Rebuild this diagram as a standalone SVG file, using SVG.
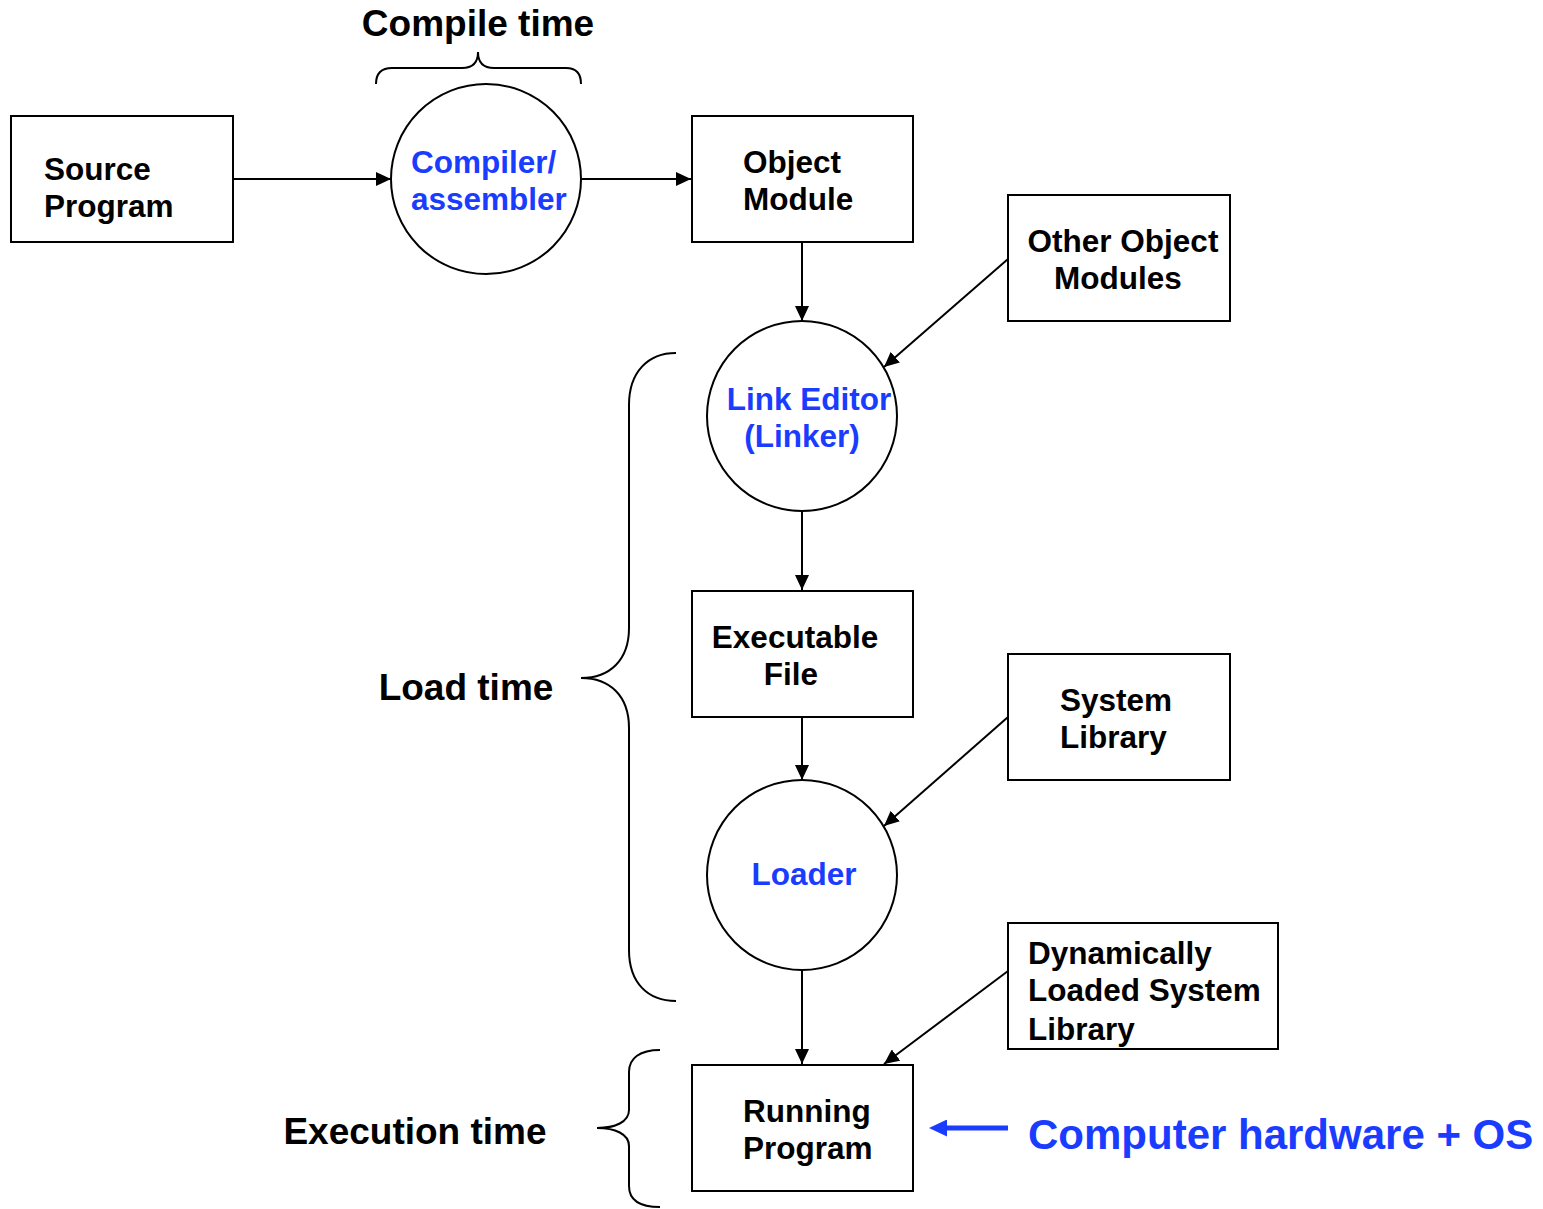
<svg xmlns="http://www.w3.org/2000/svg" width="1543" height="1209" viewBox="0 0 1543 1209">
  <style>
    .box { fill: #ffffff; stroke: #000000; stroke-width: 2; }
    .proc { fill: #ffffff; stroke: #000000; stroke-width: 2; }
    .lbl { font-family: "Liberation Sans", Arial, sans-serif; font-weight: bold; font-size: 31.5px; fill: #000000; }
    .plbl { font-family: "Liberation Sans", Arial, sans-serif; font-weight: bold; font-size: 31.5px; fill: #1a3cff; }
    .phase { font-family: "Liberation Sans", Arial, sans-serif; font-weight: bold; font-size: 37px; fill: #000000; }
    .edge { fill: none; stroke: #000000; stroke-width: 2; }
    .brace { fill: none; stroke: #000000; stroke-width: 2; }
  </style>
  <defs>
    <marker id="head" viewBox="0 0 15 14" refX="15" refY="7" markerWidth="15" markerHeight="14" markerUnits="userSpaceOnUse" orient="auto">
      <path d="M0,0 L15,7 L0,14 z" fill="#000000"/>
    </marker>
    <marker id="bluehead" viewBox="0 0 18 17" refX="0" refY="8.5" markerWidth="18" markerHeight="17" markerUnits="userSpaceOnUse" orient="auto">
      <path d="M0,0 L18,8.5 L0,17 z" fill="#1a3cff"/>
    </marker>
  </defs>
  <rect width="1543" height="1209" fill="#ffffff"/>

  <!-- connectors -->
  <g id="connectors">
    <line class="edge" x1="233" y1="179" x2="391" y2="179" marker-end="url(#head)"/>
    <line class="edge" x1="581" y1="179" x2="691" y2="179" marker-end="url(#head)"/>
    <line class="edge" x1="802" y1="242" x2="802" y2="321" marker-end="url(#head)"/>
    <line class="edge" x1="1008" y1="259" x2="884" y2="367" marker-end="url(#head)"/>
    <line class="edge" x1="802" y1="511" x2="802" y2="590" marker-end="url(#head)"/>
    <line class="edge" x1="802" y1="717" x2="802" y2="780" marker-end="url(#head)"/>
    <line class="edge" x1="1008" y1="717" x2="884" y2="826" marker-end="url(#head)"/>
    <line class="edge" x1="802" y1="970" x2="802" y2="1064" marker-end="url(#head)"/>
    <line class="edge" x1="1008" y1="971" x2="884" y2="1064" marker-end="url(#head)"/>
    <line x1="1008" y1="1128" x2="947" y2="1128" stroke="#1a3cff" stroke-width="5" marker-end="url(#bluehead)"/>
  </g>

  <!-- phase braces -->
  <g id="braces">
    <path class="brace" d="M376,84 C376,74 381,68 392,68 L462,68 C472,68 478,63 478,52 C478,63 484,68 494,68 L566,68 C576,68 581,74 581,84"/>
    <path class="brace" d="M676,353 C648,353 629,372 629,405 L629,628 C629,660 610,678 581,678 C610,678 629,696 629,728 L629,950 C629,983 648,1001 676,1001"/>
    <path class="brace" d="M660,1050 C640,1050 629,1058 629,1072 L629,1110 C629,1122 615,1128 597,1128 C615,1128 629,1134 629,1146 L629,1186 C629,1200 640,1207 660,1207"/>
  </g>

  <!-- phase labels -->
  <g id="labels">
    <text class="phase" x="478" y="36" text-anchor="middle">Compile time</text>
    <text class="phase" x="466" y="700" text-anchor="middle">Load time</text>
    <text class="phase" x="415" y="1144" text-anchor="middle">Execution time</text>
    <text x="1028" y="1149" font-family="Liberation Sans, Arial, sans-serif" font-weight="bold" font-size="42" fill="#1a3cff">Computer hardware + OS</text>
  </g>

  <g id="source-program">
    <rect class="box" x="11" y="116" width="222" height="126"/>
    <text class="lbl" x="44" y="180">Source</text>
    <text class="lbl" x="44" y="217">Program</text>
  </g>

  <g id="compiler">
    <circle class="proc" cx="486" cy="179" r="95"/>
    <text class="plbl" x="411" y="173">Compiler/</text>
    <text class="plbl" x="411" y="210">assembler</text>
  </g>

  <g id="object-module">
    <rect class="box" x="692" y="116" width="221" height="126"/>
    <text class="lbl" x="743" y="173">Object</text>
    <text class="lbl" x="743" y="210">Module</text>
  </g>

  <g id="other-object-modules">
    <rect class="box" x="1008" y="195" width="222" height="126"/>
    <text class="lbl" x="1123" y="252" text-anchor="middle">Other Object</text>
    <text class="lbl" x="1118" y="289" text-anchor="middle">Modules</text>
  </g>

  <g id="link-editor">
    <circle class="proc" cx="802" cy="416" r="95"/>
    <text class="plbl" x="809" y="410" text-anchor="middle">Link Editor</text>
    <text class="plbl" x="802" y="447" text-anchor="middle">(Linker)</text>
  </g>

  <g id="executable-file">
    <rect class="box" x="692" y="591" width="221" height="126"/>
    <text class="lbl" x="795" y="648" text-anchor="middle">Executable</text>
    <text class="lbl" x="791" y="685" text-anchor="middle">File</text>
  </g>

  <g id="system-library">
    <rect class="box" x="1008" y="654" width="222" height="126"/>
    <text class="lbl" x="1060" y="711">System</text>
    <text class="lbl" x="1060" y="748">Library</text>
  </g>

  <g id="loader">
    <circle class="proc" cx="802" cy="875" r="95"/>
    <text class="plbl" x="804" y="885" text-anchor="middle">Loader</text>
  </g>

  <g id="dynamic-library">
    <rect class="box" x="1008" y="923" width="270" height="126"/>
    <text class="lbl" x="1028" y="964">Dynamically</text>
    <text class="lbl" x="1028" y="1001">Loaded System</text>
    <text class="lbl" x="1028" y="1040">Library</text>
  </g>

  <g id="running-program">
    <rect class="box" x="692" y="1065" width="221" height="126"/>
    <text class="lbl" x="743" y="1122">Running</text>
    <text class="lbl" x="743" y="1159">Program</text>
  </g>
</svg>
